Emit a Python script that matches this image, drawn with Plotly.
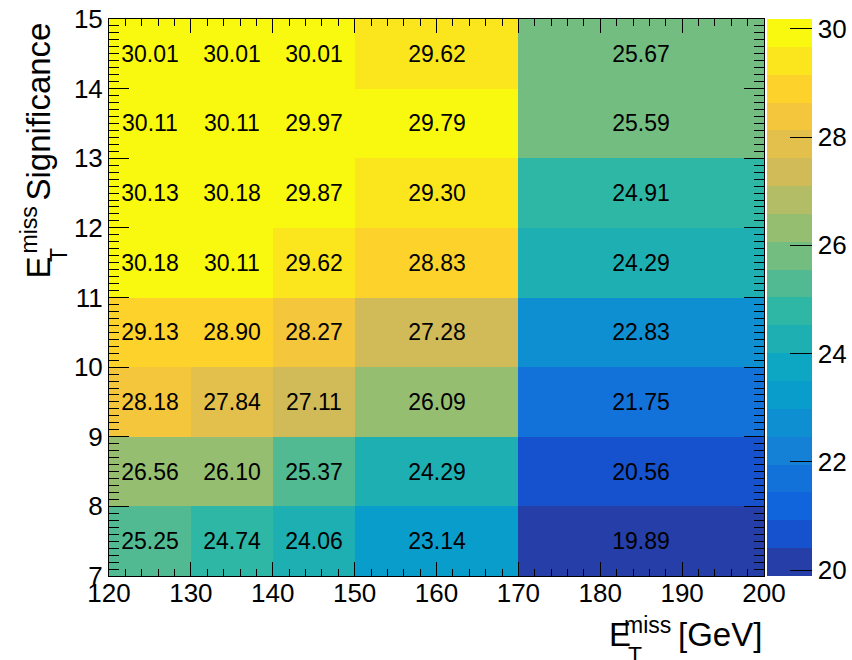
import numpy as np
import plotly.graph_objects as go

# Bin edges
met_edges = [120, 130, 140, 150, 170, 200]
sig_edges = [7, 8, 9, 10, 11, 12, 13, 14, 15]

# Cell values, one row per significance bin (bottom to top)
row_7_8 = [25.25, 24.74, 24.06, 23.14, 19.89]
row_8_9 = [26.56, 26.10, 25.37, 24.29, 20.56]
row_9_10 = [28.18, 27.84, 27.11, 26.09, 21.75]
row_10_11 = [29.13, 28.90, 28.27, 27.28, 22.83]
row_11_12 = [30.18, 30.11, 29.62, 28.83, 24.29]
row_12_13 = [30.13, 30.18, 29.87, 29.30, 24.91]
row_13_14 = [30.11, 30.11, 29.97, 29.79, 25.59]
row_14_15 = [30.01, 30.01, 30.01, 29.62, 25.67]

x_ticks = [120, 130, 140, 150, 160, 170, 180, 190, 200]
y_ticks = [7, 8, 9, 10, 11, 12, 13, 14, 15]
z_ticks = [20, 22, 24, 26, 28, 30]

z = np.array([row_7_8, row_8_9, row_9_10, row_10_11,
              row_11_12, row_12_13, row_13_14, row_14_15])
zmin, zmax = float(z.min()), float(z.max())

# "Bird" gradient table (255 colours) and 20 contour levels
stops = [0.0, 0.125, 0.25, 0.375, 0.5, 0.625, 0.75, 0.875, 1.0]
red = [0.2082, 0.0592, 0.0780, 0.0232, 0.1802, 0.5301, 0.8186, 0.9956, 0.9764]
green = [0.1664, 0.3599, 0.5041, 0.6419, 0.7178, 0.7492, 0.7328, 0.7862, 0.9832]
blue = [0.5293, 0.8684, 0.8385, 0.7914, 0.6425, 0.4662, 0.3499, 0.1968, 0.0539]
NCOL = 255
table = []
for g in range(1, len(stops)):
    n = int(np.floor(NCOL * stops[g]) - np.floor(NCOL * stops[g - 1]))
    for c in range(n):
        f = c / n
        table.append((red[g - 1] + f * (red[g] - red[g - 1]),
                      green[g - 1] + f * (green[g] - green[g - 1]),
                      blue[g - 1] + f * (blue[g] - blue[g - 1])))
NDIV = 20
colorscale = []
for k in range(NDIV):
    idx = min(int((k + 0.99) * len(table) / NDIV), len(table) - 1)
    r, gg, b = table[idx]
    col = f"rgb({round(r*255)},{round(gg*255)},{round(b*255)})"
    colorscale.append([k / NDIV, col])
    colorscale.append([(k + 1) / NDIV, col])

# Frame position in pixels
W, H = 852, 660
L, R, T, B = 109, 764, 19, 576
pw, ph = R - L, B - T


def px(xp):
    return (xp - L) / pw


def py(yp):
    return (B - yp) / ph


FONT = "Liberation Sans, Arial, Helvetica, sans-serif"

fig = go.Figure(go.Heatmap(
    x=met_edges, y=sig_edges, z=z,
    zmin=zmin, zmax=zmax,
    colorscale=colorscale,
    texttemplate="%{z:.2f}",
    textfont=dict(family=FONT, size=23, color="black"),
    hoverinfo="skip",
    colorbar=dict(
        x=px(767), xanchor="left", xref="paper",
        y=0.5, yanchor="middle", len=1.0, lenmode="fraction",
        thickness=45, thicknessmode="pixels",
        xpad=0, ypad=0,
        outlinewidth=0,
        tickvals=z_ticks, ticktext=[str(v) for v in z_ticks],
        ticks="inside", ticklen=22, tickcolor="black", tickwidth=1,
        tickfont=dict(family=FONT, size=26, color="black"),
    ),
))

axis_common = dict(
    showline=True, linecolor="black", linewidth=1, mirror="ticks",
    ticks="inside", tickcolor="black", tickwidth=1,
    tickfont=dict(family=FONT, size=26, color="black"),
    showgrid=False, zeroline=False,
)

fig.update_xaxes(range=[120, 200], tickvals=x_ticks, ticklen=14,
                 ticklabelstandoff=-6,
                 minor=dict(dtick=2, ticks="inside", ticklen=7,
                            tickcolor="black", showgrid=False),
                 **axis_common)
fig.update_yaxes(range=[7, 15], tickvals=y_ticks, ticklen=20,
                 minor=dict(dtick=0.1, ticks="inside", ticklen=10,
                            tickcolor="black", showgrid=False),
                 **axis_common)

ann = []


def add(text, x, y, size, xanchor, yanchor, angle=0):
    ann.append(dict(text=text, x=px(x), y=py(y), xref="paper", yref="paper",
                    xanchor=xanchor, yanchor=yanchor, showarrow=False,
                    textangle=angle,
                    font=dict(family=FONT, size=size, color="black")))


# x-axis title: E_T^miss [GeV], right-aligned at the end of the axis
add("[GeV]", 764, 655, 33, "right", "bottom")
add("E", 607, 655, 33, "left", "bottom")
add("miss", 622, 640, 23, "left", "bottom")
add("T", 626, 671, 23, "left", "bottom")

# y-axis title: E_T^miss Significance, rotated, aligned at the top
add("Significance", 58, 20, 33, "right", "top", -90)
add("E", 58, 281, 33, "right", "bottom", -90)
add("miss", 43, 256, 23, "right", "bottom", -90)
add("T", 74, 264, 23, "right", "bottom", -90)

fig.update_layout(
    width=W, height=H,
    margin=dict(l=L, r=W - R, t=T, b=H - B, pad=0, autoexpand=False),
    paper_bgcolor="white", plot_bgcolor="white",
    annotations=ann,
    font=dict(family=FONT, color="black"),
)

fig.write_html("out.html")
